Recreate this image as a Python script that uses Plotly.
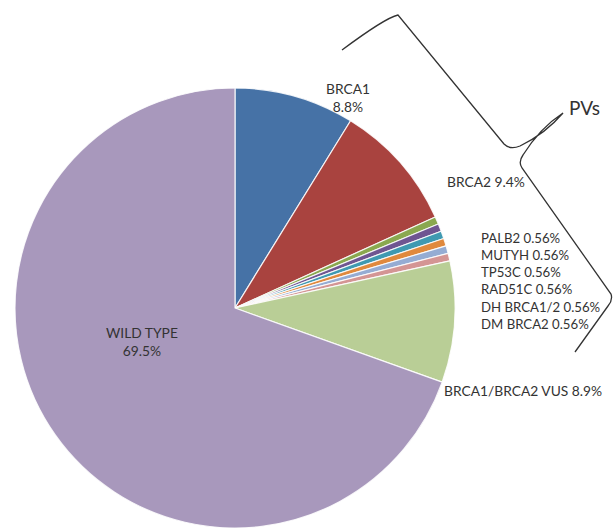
import plotly.graph_objects as go

W, H = 616, 528

# Genetic testing results (% of patients)
categories = ["BRCA1", "BRCA2", "PALB2", "MUTYH", "TP53C", "RAD51C",
              "DH BRCA1/2", "DM BRCA2", "BRCA1/BRCA2 VUS", "WILD TYPE"]
percents = [8.8, 9.4, 0.56, 0.56, 0.56, 0.56, 0.56, 0.56, 8.9, 69.5]
slice_colors = ["#4672A6", "#A9433F", "#8AA84F", "#6F5591", "#3F99B1",
                "#E0893D", "#95ACD3", "#D49594", "#B9CE96", "#A898BC"]


def fmt(v):
    return f"{v:g}%"


def px(x, y):
    """Pixel position -> paper coordinates."""
    return x / W, 1 - y / H


fig = go.Figure()
fig.add_trace(go.Pie(
    labels=categories,
    values=percents,
    sort=False,
    direction="clockwise",
    rotation=0,
    marker=dict(colors=slice_colors, line=dict(color="rgba(255,255,255,0.85)", width=1.2)),
    textinfo="none",
    hoverinfo="label+value",
    showlegend=False,
    domain=dict(x=[15 / W, 455 / W], y=[0, 440 / H]),
))

font = dict(family="Lato, 'Open Sans', sans-serif", size=13.8, color="#333333")
small_font = dict(family="Lato, 'Open Sans', sans-serif", size=13.2, color="#333333")

# Single-slice labels (pixel positions, anchor)
label_specs = [
    (f"{categories[0]}<br>{fmt(percents[0])}", 348, 98, "center"),
    (f"{categories[1]} {fmt(percents[1])}", 486, 181, "center"),
    (f"{categories[8]} {fmt(percents[8])}", 442, 390, "left"),
    (f"{categories[9]}<br>{fmt(percents[9])}", 142, 341, "center"),
]
for text, x, y, anchor in label_specs:
    ax, ay = px(x, y)
    fig.add_annotation(x=ax, y=ay, xref="paper", yref="paper", text=text,
                       showarrow=False, xanchor=anchor, yanchor="middle",
                       align="center", font=font)

# Stacked labels for the rare variants
rare = "<br>".join(f"{c} {fmt(v)}" for c, v in zip(categories[2:8], percents[2:8]))
ax, ay = px(479, 281)
fig.add_annotation(x=ax, y=ay, xref="paper", yref="paper", text=rare,
                   showarrow=False, xanchor="left", yanchor="middle",
                   align="left", font=small_font)

ax, ay = px(567, 107)
fig.add_annotation(x=ax, y=ay, xref="paper", yref="paper", text="PVs",
                   showarrow=False, xanchor="left", yanchor="middle",
                   font=dict(family="Lato, 'Open Sans', sans-serif", size=19, color="#333333"))

# Curly brace grouping the pathogenic variants
brace = [
    ("M", (342, 50)),
    ("Q", (385, 18), (398, 15)),
    ("L", (504, 144)),
    ("Q", (510, 150), (520, 146)),
    ("Q", (545, 134), (563, 113)),
    ("Q", (540, 128), (523, 155)),
    ("Q", (518, 162), (522, 168)),
    ("L", (611, 294)),
    ("Q", (613, 300), (608, 306)),
    ("L", (575, 352)),
]
path = ""
for cmd, *pts in brace:
    path += cmd + " " + " ".join("{:.5f},{:.5f}".format(*px(*p)) for p in pts) + " "
fig.add_shape(type="path", path=path.strip(), xref="paper", yref="paper",
              line=dict(color="#333333", width=1.3))

fig.update_layout(
    width=W, height=H,
    margin=dict(l=0, r=0, t=0, b=0),
    paper_bgcolor="white",
    plot_bgcolor="white",
)

fig.write_html("out.html")
